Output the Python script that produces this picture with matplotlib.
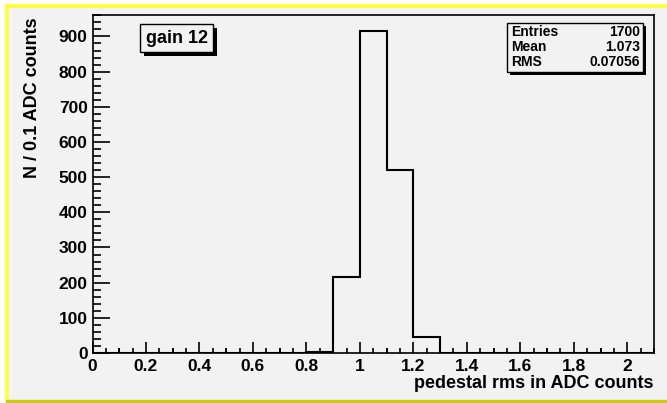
import numpy as np
import matplotlib
matplotlib.use("Agg")
import matplotlib.pyplot as plt
from matplotlib.patches import Rectangle
from matplotlib.lines import Line2D
import matplotlib.transforms as mtransforms
from matplotlib.ticker import MultipleLocator

plt.rcParams["font.family"] = "Liberation Sans"
plt.rcParams["font.weight"] = "bold"

# histogram data (bin width 0.1 ADC counts, range 0 - 2.1)
bin_width = 0.1
counts = [0, 0, 0, 0, 0, 0, 0, 0, 2, 216, 915, 521, 45, 0, 1,
          0, 0, 0, 0, 0, 0]
edges = np.arange(len(counts) + 1) * bin_width

title_box = "gain 12"
stat_names = ["Entries", "Mean", "RMS"]
stat_values = ["1700", "1.073", "0.07056"]
x_title = "pedestal rms in ADC counts"
y_title = "N / 0.1 ADC counts"

W, H = 667, 403

def fx(px):
    return px / W

def fy(py):
    return 1 - py / H

def pbox(fig, x0, y0, x1, y1, **kw):
    r = Rectangle((fx(x0), fy(y1)), (x1 - x0) / W, (y1 - y0) / H,
                  transform=fig.transFigure, **kw)
    fig.add_artist(r)
    return r

fig = plt.figure(figsize=(W / 100, H / 100), dpi=100, facecolor="white")

# canvas background + yellow frame
pbox(fig, 7, 5.5, 680, 400, facecolor="#f2f2f2", edgecolor="none", zorder=-10)
fig.add_artist(Line2D([fx(7), fx(7)], [fy(5.5), fy(400)], color="#ffff33", lw=2.6,
                      transform=fig.transFigure, zorder=-5))
fig.add_artist(Line2D([fx(7), 1.0], [fy(5.5), fy(5.5)], color="#ffff33", lw=2.6,
                      transform=fig.transFigure, zorder=-5))
fig.add_artist(Line2D([fx(7), 1.0], [fy(400.5), fy(400.5)], color="#cccc10", lw=2.4,
                      transform=fig.transFigure, zorder=-5))

ax = fig.add_axes([fx(92.5), fy(353), (654 - 92.5) / W, (353 - 15) / H])
ax.set_facecolor("#f2f2f2")
ax.stairs(counts, edges, color="black", lw=1.5, baseline=0)

ax.set_xlim(0, 2.1)
ax.set_ylim(0, 961)
for s in ax.spines.values():
    s.set_linewidth(1.2)

ax.xaxis.set_major_locator(MultipleLocator(0.2))
ax.xaxis.set_minor_locator(MultipleLocator(0.05))
ax.yaxis.set_major_locator(MultipleLocator(100))
ax.yaxis.set_minor_locator(MultipleLocator(20))
ax.tick_params(axis="both", which="both", direction="in", top=False, right=False,
               width=1.2, labelsize=12.5)
ax.tick_params(axis="x", which="major", length=8, pad=4)
ax.tick_params(axis="x", which="minor", length=3.5)
ax.tick_params(axis="y", which="major", length=12, pad=3.5)
ax.tick_params(axis="y", which="minor", length=5.5)
ax.set_xticks(np.arange(0, 2.01, 0.2))
ax.set_xticklabels(["0", "0.2", "0.4", "0.6", "0.8", "1", "1.2", "1.4", "1.6", "1.8", "2"])

# medium ticks at odd tenths
trans = mtransforms.blended_transform_factory(ax.transData, ax.transAxes)
mid = np.arange(0.1, 2.1, 0.2)
ax.vlines(mid, 0, 5.5 / 338, transform=trans, color="black", lw=1.2, clip_on=False)

fig.text(fx(653), fy(383), x_title, ha="right", va="center", fontsize=13,
         fontweight="bold")
fig.text(fx(33), fy(17), y_title, ha="center", va="top", rotation=90, fontsize=13,
         fontweight="bold")

# "gain 12" label box with shadow
pbox(fig, 144, 28, 217, 56, facecolor="black", edgecolor="none", zorder=5)
pbox(fig, 140, 24, 213, 52, facecolor="#f2f2f2", edgecolor="black", lw=1.0, zorder=6)
fig.text(fx(176.5), fy(38.5), title_box, ha="center", va="center", fontsize=13,
         fontweight="bold", zorder=7)

# stats box with shadow
pbox(fig, 510, 26, 646, 75, facecolor="black", edgecolor="none", zorder=5)
pbox(fig, 507, 23, 643, 72, facecolor="#f2f2f2", edgecolor="black", lw=1.0, zorder=6)
for i, (n, v) in enumerate(zip(stat_names, stat_values)):
    y = 32 + i * 15
    fig.text(fx(511), fy(y), n, ha="left", va="center", fontsize=10,
             fontweight="bold", zorder=7)
    fig.text(fx(640), fy(y), v, ha="right", va="center", fontsize=10,
             fontweight="bold", zorder=7)

fig.savefig("out.png", dpi=100, facecolor="white")
